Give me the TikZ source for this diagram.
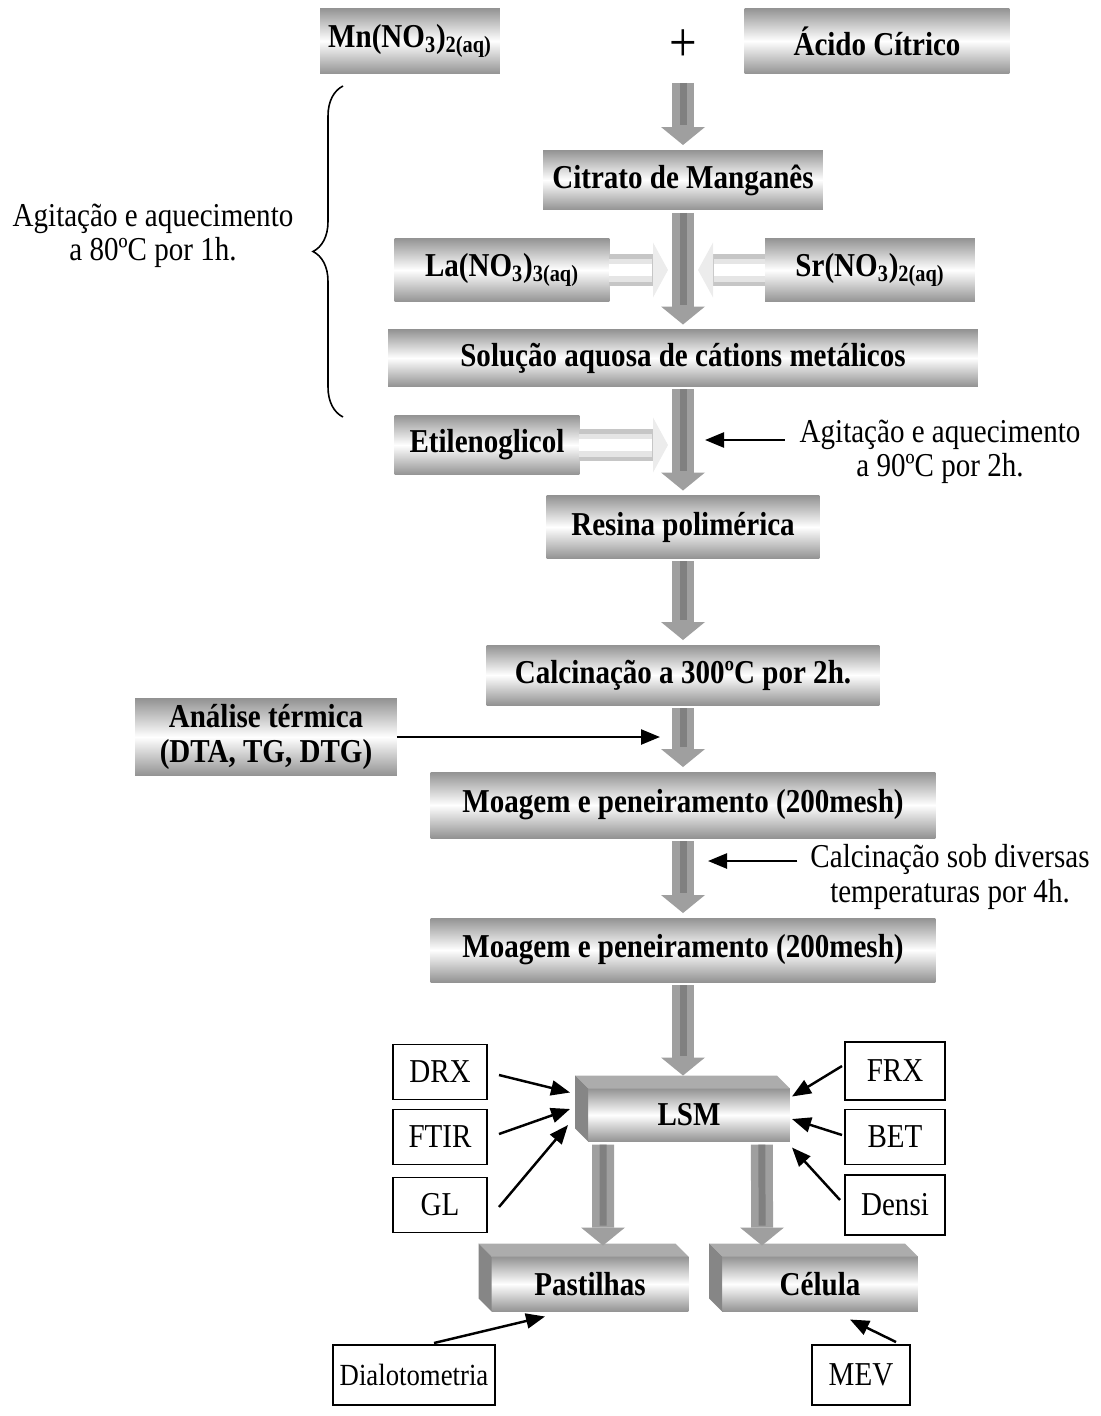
\documentclass[tikz,border=0pt]{standalone}
\usepackage{fontspec}
\setmainfont[FakeStretch=0.87]{Liberation Serif}
\usepackage{tikz}
\usetikzlibrary{arrows.meta,calc,decorations.pathreplacing}

\begin{document}
\begin{tikzpicture}[x=0.02cm,y=-0.02cm,every node/.style={inner sep=0pt, outer sep=0pt, font=\fontsize{19}{19.5}\selectfont},
box/.style={rectangle, top color=gray!85, bottom color=gray!85, middle color=white, font=\fontsize{19}{19.5}\selectfont\bfseries, align=center},
topface/.style={fill=gray!65},
sideface/.style={fill=gray!95},
lab/.style={draw, line width=0.8pt, minimum width=1.9cm, minimum height=1.12cm},
note/.style={align=center},
garrow/.style={line width=0.44cm, draw=gray!75, shorten <=0.06cm, shorten >=0.1cm, -{Triangle[length=0.36cm,width=0.88cm,line width=0pt]}, postaction={draw=black!50, line width=0.14cm, -, shorten >=0.5cm}},
harrow/.style={line width=0.64cm, draw=gray!45, -{Triangle[length=0.3cm,width=1.1cm,line width=0pt,fill=gray!15]}, postaction={draw=gray!20, line width=0.46cm, -, shorten >=0.32cm}, postaction={draw=white, line width=0.24cm, -, shorten >=0.32cm}},
blk/.style={line width=1.4pt, -{Triangle[length=0.38cm,width=0.3cm]}}]
\useasboundingbox (0,0) rectangle (1101,1416);
\node[box, minimum width=3.6cm, minimum height=1.32cm] (mn) at (410,41) {Mn(NO\textsubscript{3})\textsubscript{2(aq)}};
\node[font=\fontsize{32}{32}\selectfont] (plus) at (683,46) {+};
\node[box, minimum width=5.3cm, minimum height=1.32cm] (acido) at (877,41) {Ácido Cítrico};
\coordinate (mix) at (683,80);
\node[box, minimum width=5.6cm, minimum height=1.2cm] (citrato) at (683,180) {Citrato de Manganês};
\node[box, minimum width=4.3cm, minimum height=1.28cm] (la) at (502,270) {La(NO\textsubscript{3})\textsubscript{3(aq)}};
\node[box, minimum width=4.2cm, minimum height=1.28cm] (sr) at (870,270) {Sr(NO\textsubscript{3})\textsubscript{2(aq)}};
\node[box, minimum width=11.8cm, minimum height=1.14cm] (solucao) at (683,358) {Solução aquosa de cátions metálicos};
\node[box, minimum width=3.7cm, minimum height=1.2cm] (etileno) at (487,445) {Etilenoglicol};
\node[box, minimum width=5.46cm, minimum height=1.26cm] (resina) at (683,527) {Resina polimérica};
\node[box, minimum width=7.86cm, minimum height=1.2cm] (calc) at (683,675) {Calcinação a 300ºC por 2h.};
\node[box, minimum width=5.24cm, minimum height=1.54cm] (analise) at (266,737) {Análise térmica\\(DTA, TG, DTG)};
\node[box, minimum width=10.1cm, minimum height=1.32cm] (moagem1) at (683,805) {Moagem e peneiramento (200mesh)};
\node[box, minimum width=10.1cm, minimum height=1.28cm] (moagem2) at (683,950) {Moagem e peneiramento (200mesh)};
\node[box, minimum width=4.04cm, minimum height=1.06cm] (lsm) at (689,1115) {LSM};
\node[box, minimum width=3.94cm, minimum height=1.1cm] (past) at (590,1284) {Pastilhas};
\node[box, minimum width=3.92cm, minimum height=1.1cm] (cel) at (820,1284) {Célula};
\node[lab, minimum width=1.88cm, minimum height=1.1cm] (drx) at (440,1072) {DRX};
\node[lab, minimum width=1.88cm, minimum height=1.1cm] (ftir) at (440,1137) {FTIR};
\node[lab, minimum width=1.88cm, minimum height=1.1cm] (gl) at (440,1205) {GL};
\node[lab, minimum width=2cm, minimum height=1.16cm] (frx) at (895,1071) {FRX};
\node[lab, minimum width=2cm, minimum height=1.1cm] (bet) at (895,1137) {BET};
\node[lab, minimum width=2cm, minimum height=1.2cm] (densi) at (895,1205) {Densi};
\node[lab, minimum width=3.24cm, minimum height=1.2cm, font=\fontsize{17.5}{19}\selectfont] (dial) at (414,1375) {Dialotometria};
\node[lab, minimum width=1.96cm, minimum height=1.2cm] (mev) at (861,1375) {MEV};
\node[note] (agit80) at (153,236) {Agitação e aquecimento\\a 80ºC por 1h.};
\node[note] (agit90) at (940,452) {Agitação e aquecimento\\a 90ºC por 2h.};
\node[note] (calcsob) at (950,877) {Calcinação sob diversas\\temperaturas por 4h.};
\coordinate (bracetop) at (343,86);
\coordinate (bracebot) at (343,417);
\draw[line width=0.9pt, decorate, decoration={brace, amplitude=0.6cm}] (bracebot) -- (bracetop);
\fill[topface] (lsm.north west) -- ++(-13,-13) -- ([shift={(-13,-13)}]lsm.north east) -- (lsm.north east) -- cycle;
\fill[sideface] (lsm.north west) -- ++(-13,-13) -- ([shift={(-13,-13)}]lsm.south west) -- (lsm.south west) -- cycle;
\fill[topface] (past.north west) -- ++(-13,-13) -- ([shift={(-13,-13)}]past.north east) -- (past.north east) -- cycle;
\fill[sideface] (past.north west) -- ++(-13,-13) -- ([shift={(-13,-13)}]past.south west) -- (past.south west) -- cycle;
\fill[topface] (cel.north west) -- ++(-13,-13) -- ([shift={(-13,-13)}]cel.north east) -- (cel.north east) -- cycle;
\fill[sideface] (cel.north west) -- ++(-13,-13) -- ([shift={(-13,-13)}]cel.south west) -- (cel.south west) -- cycle;
\coordinate (laend) at (668,270);
\coordinate (srend) at (698,270);
\coordinate (etend) at (668,445);
\draw[harrow] (la.east) -- (laend);
\draw[harrow] (sr.west) -- (srend);
\draw[harrow] (etileno.east) -- (etend);
\draw[garrow] (mix) -- (citrato.north);
\draw[garrow] (citrato.south) -- (solucao.north);
\draw[garrow] (solucao.south) -- (resina.north);
\draw[garrow] (resina.south) -- (calc.north);
\draw[garrow] (calc.south) -- (moagem1.north);
\draw[garrow] (moagem1.south) -- (moagem2.north);
\draw[garrow] (moagem2.south) -- ($(lsm.north)+(-6,-8)$);
\draw[garrow] ($(lsm.south west)+(15,0)$) -- ($(past.north)+(13,-6)$);
\draw[garrow] ($(lsm.south east)+(-28,0)$) -- ($(cel.north)+(-58,-6)$);
\coordinate (th) at (660,737);
\draw[blk] (analise.east) -- (th);
\coordinate (h90) at (705,440);
\draw[blk] ($(agit90.west)+(-15,-12)$) -- (h90);
\coordinate (hsob) at (708,861);
\draw[blk] ($(calcsob.west)+(-13,-16)$) -- (hsob);
\draw[blk] ($(drx.east)+(12,3)$) -- ($(lsm.north west)+(-18,4)$);
\draw[blk] ($(ftir.east)+(12,-3)$) -- ($(lsm.west)+(-18,-6)$);
\draw[blk] ($(gl.east)+(12,2)$) -- ($(lsm.west)+(-20,10)$);
\draw[blk] ($(frx.west)+(-3,-5)$) -- ($(lsm.north east)+(2,8)$);
\draw[blk] ($(bet.west)+(-3,-2)$) -- ($(lsm.east)+(2,4)$);
\draw[blk] ($(densi.west)+(-5,-5)$) -- ($(lsm.south east)+(2,6)$);
\draw[blk] ($(dial.north)+(20,-2)$) -- ($(past.south)+(-45,5)$);
\draw[blk] ($(mev.north)+(35,-3)$) -- ($(cel.south east)+(-68,8)$);
\end{tikzpicture}
\end{document}
